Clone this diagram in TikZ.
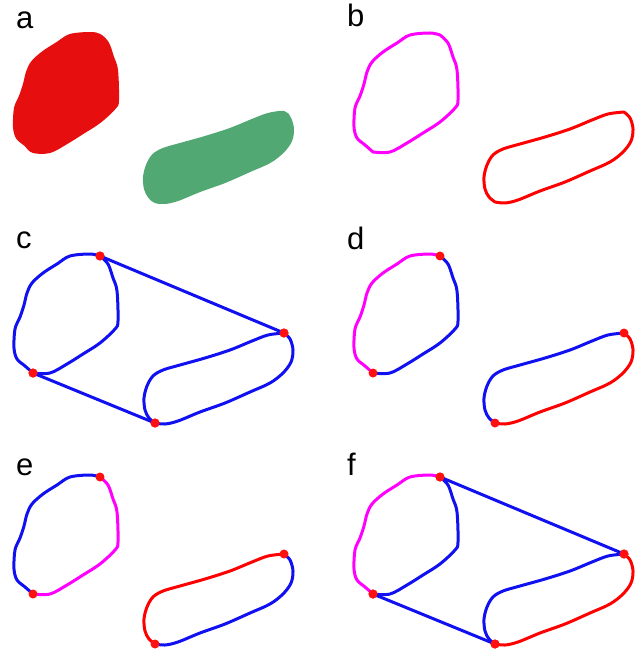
\documentclass[tikz,border=0pt]{standalone}
\usepackage{fontspec}
\setmainfont{Liberation Sans}
\usepackage{tikz}

\definecolor{cellred}{RGB}{230,14,14}
\definecolor{cellgreen}{RGB}{82,168,115}
\definecolor{trackblue}{RGB}{16,16,240}
\definecolor{trackpink}{RGB}{255,0,255}
\definecolor{trackred}{RGB}{255,0,0}
\definecolor{ptred}{RGB}{255,16,16}

% outline pieces of the two cells (pixel units, panel b position)
\newcommand{\blobR}{plot[smooth,tension=0.55] coordinates {
  (440,35)(448,43)(453,57)(457,70)(458,100)(455,108)(440,122)
  (423,133)(407,143)(390,152)(373,152)}}
\newcommand{\blobL}{plot[smooth,tension=0.55] coordinates {
  (373,152)(365,145)(357,138)(354,127)(355,108)(360,96)(364,84)
  (367,72)(372,62)(383,52)(397,43)(410,35)(430,33)(440,35)}}
\newcommand{\ovalT}{plot[smooth,tension=0.55] coordinates {
  (495,202)(489,197)(485,189)(484,177)(487,165)(493,155)(503,149)
  (520,144)(545,137)(570,129)(592,120)(608,114)(624,112)}}
\newcommand{\ovalB}{plot[smooth,tension=0.55] coordinates {
  (495,202)(505,203)(518,200)(540,191)(565,182)(590,171)(610,162)
  (623,152)(631,141)(633,129)(630,118)(624,112)}}
% closed versions for the filled masks
\newcommand{\blobC}{plot[smooth cycle,tension=0.55] coordinates {
  (440,35)(448,43)(453,57)(457,70)(458,100)(455,108)(440,122)
  (423,133)(407,143)(390,152)(373,152)(365,145)(357,138)(354,127)
  (355,108)(360,96)(364,84)(367,72)(372,62)(383,52)(397,43)(410,35)(430,33)}}
\newcommand{\ovalC}{plot[smooth cycle,tension=0.55] coordinates {
  (495,202)(489,197)(485,189)(484,177)(487,165)(493,155)(503,149)
  (520,144)(545,137)(570,129)(592,120)(608,114)(624,112)(630,118)
  (633,129)(631,141)(623,152)(610,162)(590,171)(565,182)(540,191)
  (518,200)(505,203)}}

\tikzset{
  outline/.style={line width=3pt,line join=round,line cap=round},
  dot/.style={circle,fill=ptred,inner sep=0pt,minimum size=9pt},
  lbl/.style={anchor=base west,inner sep=0pt,font=\fontsize{31}{31}\selectfont}
}

\begin{document}
\begin{tikzpicture}[x=1pt,y=-1pt]
\useasboundingbox (0,0) rectangle (639,652);
% panel labels
\node[lbl] (la) at (16,29) {a};
\node[lbl] (lb) at (347,27) {b};
\node[lbl] (lc) at (16,248) {c};
\node[lbl] (ld) at (347,249) {d};
\node[lbl] (le) at (16,475) {e};
\node[lbl] (lf) at (347,475) {f};
% a: segmented cells
\begin{scope}[shift={(-340,0)}]
\filldraw[cellred,line width=2pt] \blobC;
\filldraw[cellgreen,line width=2pt] \ovalC;
\end{scope}
% b: contours
\draw[outline,trackpink] \blobR \blobL;
\draw[outline,trackred] \ovalT \ovalB;
% c: convex hull of both contours
\begin{scope}[shift={(-340,221)}]
\draw[outline,trackblue] \blobR \blobL;
\draw[outline,trackblue] \ovalT \ovalB;
\node[dot] (c1) at (440,35) {};
\node[dot] (c2) at (373,152) {};
\node[dot] (c3) at (624,112) {};
\node[dot] (c4) at (495,202) {};
\draw[outline,trackblue] (c1.center) -- (c3.center);
\draw[outline,trackblue] (c2.center) -- (c4.center);
\foreach \p in {c1,c2,c3,c4} \node[dot] at (\p) {};
\end{scope}
% d: split points, inner parts blue
\begin{scope}[shift={(0,221)}]
\draw[outline,trackpink] \blobL;
\draw[outline,trackblue] \blobR;
\draw[outline,trackblue] \ovalT;
\draw[outline,trackred] \ovalB;
\node[dot] (d1) at (440,35) {};
\node[dot] (d2) at (373,152) {};
\node[dot] (d3) at (624,112) {};
\node[dot] (d4) at (495,202) {};
\end{scope}
% e: outer parts blue
\begin{scope}[shift={(-340,442)}]
\draw[outline,trackblue] \blobL;
\draw[outline,trackpink] \blobR;
\draw[outline,trackred] \ovalT;
\draw[outline,trackblue] \ovalB;
\node[dot] (e1) at (440,35) {};
\node[dot] (e2) at (373,152) {};
\node[dot] (e3) at (624,112) {};
\node[dot] (e4) at (495,202) {};
\end{scope}
% f: inner parts joined by the hull edges
\begin{scope}[shift={(0,442)}]
\draw[outline,trackpink] \blobL;
\draw[outline,trackblue] \blobR;
\draw[outline,trackblue] \ovalT;
\draw[outline,trackred] \ovalB;
\node[dot] (f1) at (440,35) {};
\node[dot] (f2) at (373,152) {};
\node[dot] (f3) at (624,112) {};
\node[dot] (f4) at (495,202) {};
\draw[outline,trackblue] (f1.center) -- (f3.center);
\draw[outline,trackblue] (f2.center) -- (f4.center);
\foreach \p in {f1,f2,f3,f4} \node[dot] at (\p) {};
\end{scope}
\end{tikzpicture}
\end{document}
